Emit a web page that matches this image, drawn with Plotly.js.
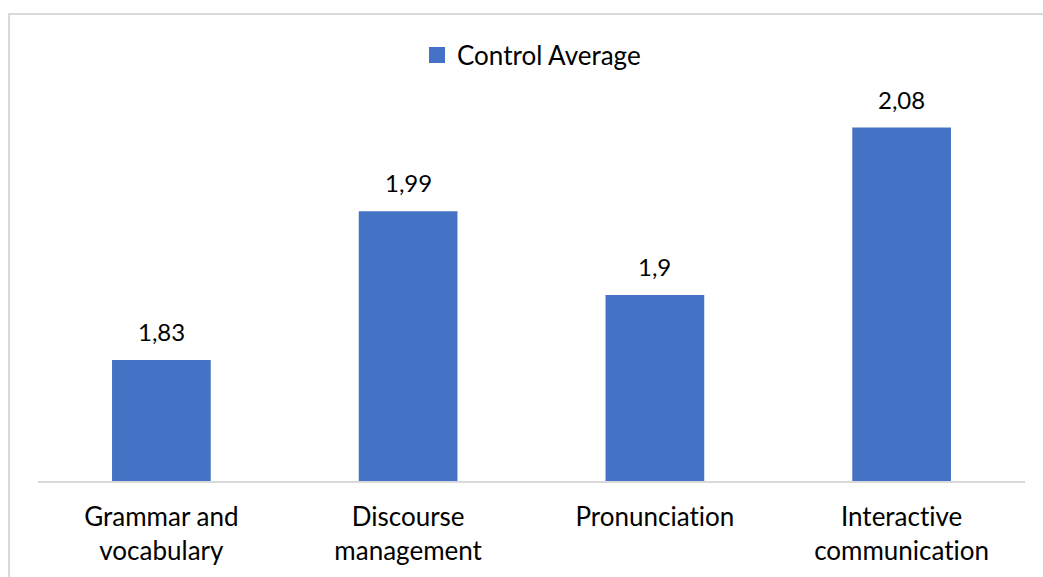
<!DOCTYPE html>
<html>
<head>
<meta charset="utf-8">
<script src="https://cdn.plot.ly/plotly-3.0.1.min.js"></script>
<style>
  html, body { margin: 0; padding: 0; background: #ffffff; }
  #wrap { position: relative; width: 1043px; height: 577px; overflow: hidden; }
  #chart { width: 1043px; height: 577px; }
  #chart text { font-variant-ligatures: none; font-feature-settings: "liga" 0, "clig" 0; }
  #frame {
    position: absolute; left: 8px; top: 13px; width: 1100px; height: 700px;
    border-left: 2px solid #d9d9d9; border-top: 2px solid #d9d9d9;
    pointer-events: none; box-sizing: border-box;
  }
</style>
</head>
<body>
<div id="wrap">
  <div id="chart"></div>
  <div id="frame"></div>
</div>
<script>
// Skill categories and the control group's average scores
const categories = [
  "Grammar and<br>vocabulary",
  "Discourse<br>management",
  "Pronunciation",
  "Interactive<br>communication"
];
const seriesName = "Control Average";
const controlAverage = [1.83, 1.99, 1.9, 2.08];

// Value labels use a decimal comma
const valueLabels = controlAverage.map(v => String(v).replace(".", ","));

const FONT = "Lato, 'Noto Sans', sans-serif";
const BAR_COLOR = "#4472C4";

const bars = {
  type: "bar",
  name: seriesName,
  x: categories,
  y: controlAverage,
  marker: { color: BAR_COLOR },
  width: 0.4,
  showlegend: false,
  hoverinfo: "skip"
};

// Legend entry with a larger square key
const legendKey = {
  type: "scatter",
  mode: "markers",
  name: seriesName,
  x: [null],
  y: [null],
  marker: { symbol: "square", size: 16, color: BAR_COLOR },
  showlegend: true,
  hoverinfo: "skip"
};

const annotations = controlAverage.map((v, i) => ({
  x: categories[i],
  y: v,
  xref: "x",
  yref: "y",
  text: valueLabels[i],
  showarrow: false,
  yanchor: "bottom",
  yshift: 12,
  font: { family: FONT, size: 24, color: "#000000" }
}));

const layout = {
  width: 1043,
  height: 577,
  margin: { l: 38, r: 18, t: 16, b: 96 },
  paper_bgcolor: "#ffffff",
  plot_bgcolor: "#ffffff",
  showlegend: true,
  legend: {
    orientation: "h",
    x: 0.5,
    xanchor: "center",
    y: 0.916,
    yanchor: "middle",
    itemwidth: 30,
    font: { family: FONT, size: 26, color: "#000000" },
    bgcolor: "rgba(0,0,0,0)"
  },
  xaxis: {
    type: "category",
    showline: true,
    linecolor: "#d9d9d9",
    linewidth: 1.5,
    showgrid: false,
    zeroline: false,
    ticks: "outside",
    ticklen: 12,
    tickcolor: "rgba(0,0,0,0)",
    tickfont: { family: FONT, size: 26, color: "#000000" },
    fixedrange: true
  },
  yaxis: {
    range: [1.7, 2.2],
    visible: false,
    showgrid: false,
    zeroline: false,
    fixedrange: true
  },
  annotations: annotations
};

Plotly.newPlot("chart", [bars, legendKey], layout, { displayModeBar: false, staticPlot: true });
</script>
</body>
</html>
